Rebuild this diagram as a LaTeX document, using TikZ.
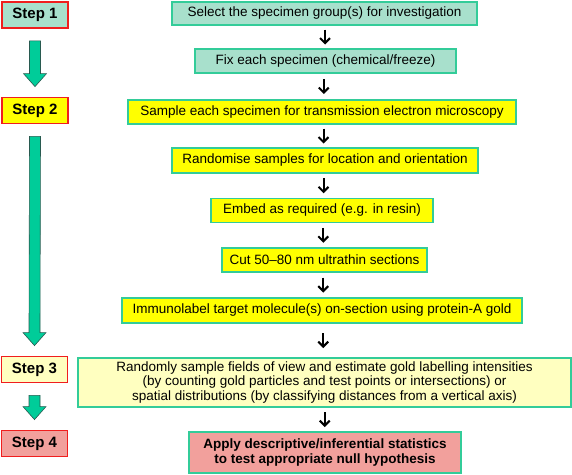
\documentclass[tikz,border=0pt]{standalone}
\usepackage{fontspec}
\setmainfont{Liberation Sans}
\usetikzlibrary{arrows.meta,calc}

\definecolor{mint}{RGB}{168,224,204}
\definecolor{boxline}{RGB}{51,204,153}
\definecolor{lemon}{RGB}{255,255,0}
\definecolor{cream}{RGB}{255,255,192}
\definecolor{salmon}{RGB}{242,160,156}
\definecolor{stepred}{RGB}{240,30,30}
\definecolor{arrowfill}{RGB}{0,204,153}
\definecolor{arrowline}{RGB}{40,90,80}

% block arrow between two step boxes
\newcommand{\bigarrow}[2]{%
  \draw[bigarrow] ($(#1.south)+(-5.5,12)$) -- ($(#2.north)+(-5.5,-23)$) -- ($(#2.north)+(-11.5,-23)$)
    -- ($(#2.north)+(0,-10)$) -- ($(#2.north)+(11.5,-23)$) -- ($(#2.north)+(5.5,-23)$)
    -- ($(#1.south)+(5.5,12)$) -- cycle;}
% short arrow between two boxes
\newcommand{\link}[2]{%
  \draw[arrow] ($(#1.south)!0.5!(#2.north)+(0,-7.5)$) -- ($(#1.south)!0.5!(#2.north)+(0,7.5)$);}

\begin{document}
\begin{tikzpicture}[x=1pt,y=-1pt]
      \tikzstyle{stepbox} = [rectangle, draw=stepred, line width=1.8pt, minimum width=66pt, minimum height=26pt, inner sep=0pt, font=\fontsize{15}{17}\selectfont\bfseries]
      \tikzstyle{process} = [rectangle, draw=boxline, line width=1.3pt, minimum height=24pt, inner sep=0pt, align=center, font=\fontsize{13.5}{14.5}\selectfont]
      \tikzstyle{arrow} = [line width=2pt, -{Straight Barb[length=5pt,width=10pt]}]
      \tikzstyle{bigarrow} = [fill=arrowfill, draw=arrowline, line width=0.6pt]

      \useasboundingbox (0,0) rectangle (572,474);

      \node (s1) [stepbox, fill=mint] at (35,15) {Step 1};
      \node (s2) [stepbox, fill=lemon] at (35,110.5) {Step 2};
      \node (s3) [stepbox, fill=cream] at (34.5,369.5) {Step 3};
      \node (s4) [stepbox, fill=salmon] at (34.5,443.5) {Step 4};

      \node (select) [process, fill=mint, minimum width=305pt, minimum height=23pt] at (324.5,13.5) {Select the specimen group(s) for investigation};
      \node (fix) [process, fill=mint, minimum width=261pt] at (325.5,61) {Fix each specimen (chemical/freeze)};
      \node (sample) [process, fill=lemon, minimum width=388pt] at (322,112) {Sample each specimen for transmission electron microscopy};
      \node (random) [process, fill=lemon, minimum width=306pt, minimum height=25pt] at (325,160.5) {Randomise samples for location and orientation};
      \node (embed) [process, fill=lemon, minimum width=222pt] at (322,210.5) {Embed as required (e.g. in resin)};
      \node (cut) [process, fill=lemon, minimum width=205pt] at (324.5,260) {Cut 50--80 nm ultrathin sections};
      \node (immuno) [process, fill=lemon, minimum width=400pt, minimum height=25pt] at (322,310.5) {Immunolabel target molecule(s) on-section using protein-A gold};
      \node (fields) [process, fill=cream, minimum width=493pt, minimum height=49pt] at (324.5,382.5) {Randomly sample fields of view and estimate gold labelling intensities\\(by counting gold particles and test points or intersections) or\\spatial distributions (by classifying distances from a vertical axis)};
      \node (stats) [process, fill=salmon, minimum width=272pt, minimum height=41pt, font=\fontsize{13.5}{14.7}\selectfont\bfseries] at (325,452.5) {Apply descriptive/inferential statistics\\to test appropriate null hypothesis};

      \bigarrow{s1}{s2}
      \bigarrow{s2}{s3}
      \bigarrow{s3}{s4}

      \link{select}{fix}
      \link{fix}{sample}
      \link{sample}{random}
      \link{random}{embed}
      \link{embed}{cut}
      \link{cut}{immuno}
      \link{immuno}{fields}
      \link{fields}{stats}
\end{tikzpicture}
\end{document}
